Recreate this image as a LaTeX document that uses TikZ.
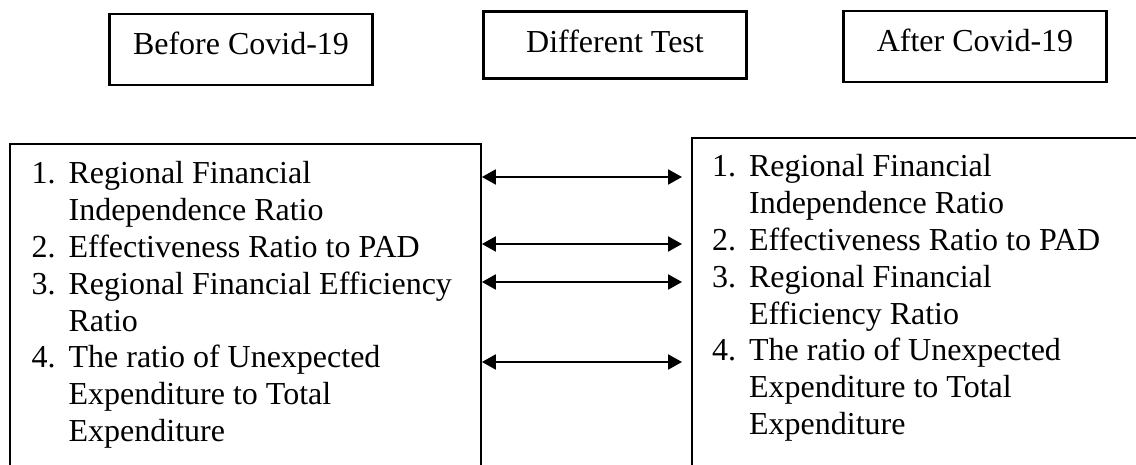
\documentclass[tikz,border=0pt]{standalone}
\usepackage{fontspec}
\setmainfont{Liberation Serif}
\usetikzlibrary{arrows.meta,calc}
\newcommand\itemno[1]{\makebox[13.9pt][l]{#1}}
\begin{document}
\begin{tikzpicture}[x=0.375pt,y=-0.375pt,
  txt/.style={font=\fontsize{12}{13.8}\selectfont},
  topbox/.style={draw,line width=0.95pt,inner sep=0pt,minimum width=98.6pt,txt},
  panel/.style={draw,line width=0.75pt,inner sep=0pt,anchor=north west,minimum height=200pt},
  listtext/.style={inner sep=0pt,anchor=base west,txt},
  both/.style={line width=0.75pt,{Triangle[length=5.2pt,width=5.6pt]}-{Triangle[length=5.2pt,width=5.6pt]}}]
\useasboundingbox (0,0) rectangle (1136,465);
\clip (0,0) rectangle (1136,465);

% headings
\node[topbox,minimum height=26.5pt,text height=8.5pt,text depth=4.4pt] (before) at (241,49.5) {Before Covid-19};
\node[topbox,minimum height=25.3pt,text height=8.5pt,text depth=3pt] (test) at (615,45) {Different Test};
\node[topbox,minimum height=26.6pt,text height=8.5pt,text depth=4.5pt] (after) at (975,46.5) {After Covid-19};

% the two lists (open at the bottom)
\node[panel,minimum width=176.6pt] (Lpanel) at (9,143) {};
\node[panel,minimum width=200pt] (Rpanel) at (691,137) {};

\node[listtext] (Ltext) at (31,184) {\begin{tabular}[t]{@{}l@{}}
\itemno{1.}Regional Financial\\
\itemno{}Independence Ratio\\
\itemno{2.}Effectiveness Ratio to PAD\\
\itemno{3.}Regional Financial Efficiency\\
\itemno{}Ratio\\
\itemno{4.}The ratio of Unexpected\\
\itemno{}Expenditure to Total\\
\itemno{}Expenditure
\end{tabular}};

\node[listtext] (Rtext) at (711.5,177) {\begin{tabular}[t]{@{}l@{}}
\itemno{1.}Regional Financial\\
\itemno{}Independence Ratio\\
\itemno{2.}Effectiveness Ratio to PAD\\
\itemno{3.}Regional Financial\\
\itemno{}Efficiency Ratio\\
\itemno{4.}The ratio of Unexpected\\
\itemno{}Expenditure to Total\\
\itemno{}Expenditure
\end{tabular}};

% comparison arrows
\foreach \i/\dl/\dr in {1/34/40, 2/101/107, 3/139/145, 4/219/225} {
  \coordinate (l\i) at ($(Lpanel.north east)+(0,\dl)$);
  \coordinate (r\i) at ($(Rpanel.north west)+(-9,\dr)$);
  \draw[both] (l\i) -- (r\i);
}
\end{tikzpicture}
\end{document}
